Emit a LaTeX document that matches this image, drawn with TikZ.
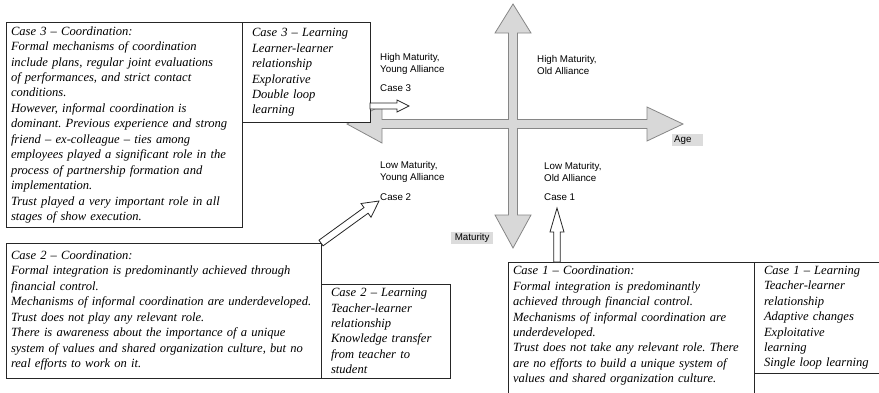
\documentclass[tikz,border=0pt]{standalone}
\usepackage{fontspec}
\setmainfont{Liberation Serif}
\setsansfont{Liberation Sans}
\usepackage{tikz}
\usetikzlibrary{calc}
\frenchspacing

\definecolor{axisfill}{HTML}{D8D8D8}
\definecolor{axisline}{HTML}{868686}
\definecolor{tagfill}{HTML}{DCDCDC}

% hollow block arrow: from, to, half shaft, half head, head length
\newcommand{\blockarrow}[5]{%
  \path ($(#2)!#5!(#1)$) coordinate (hb);
  \draw[hollow] ($(#1)!#3!90:(#2)$) -- ($(hb)!#3!90:(#2)$) -- ($(hb)!#4!90:(#2)$)
    -- (#2) -- ($(hb)!#4!-90:(#2)$) -- ($(hb)!#3!-90:(#2)$) -- ($(#1)!#3!-90:(#2)$) -- cycle;
}

\begin{document}
\begin{tikzpicture}[
    x=1bp, y=-1bp,
    coordbox/.style={draw=black!85, line width=0.9bp, fill=white, align=left, outer sep=0pt,
        inner xsep=5bp, inner ysep=4bp, font=\fontsize{12.6}{15.5}\selectfont\itshape},
    learnbox/.style={coordbox, inner xsep=10bp},
    quadlabel/.style={anchor=west, align=left, inner sep=0pt, font=\fontsize{9.8}{12}\selectfont\sffamily},
    axistag/.style={fill=tagfill, anchor=north west, inner xsep=2bp, inner ysep=1.5bp,
        font=\fontsize{9.8}{11}\selectfont\sffamily},
    axiscross/.style={draw=axisline, fill=axisfill, line width=0.8bp, line join=miter},
    hollow/.style={draw=black!85, fill=white, line width=0.8bp, line join=miter}
]
\useasboundingbox (0,0) rectangle (879,392);

% maturity / age cross
\draw[axiscross] (513,4) -- (531,33) -- (517.5,33) -- (517.5,119.5) -- (647,119.5) -- (647,107)
    -- (683,124) -- (647,141) -- (647,128.5) -- (517.5,128.5) -- (517.5,215) -- (531,215)
    -- (513,248) -- (495,215) -- (508.5,215) -- (508.5,128.5) -- (382,128.5) -- (382,143)
    -- (347,124) -- (382,105) -- (382,119.5) -- (508.5,119.5) -- (508.5,33) -- (495,33) -- cycle;

\node[axistag, text width=27bp] (agetag) at (672,134) {Age};
\node[axistag, minimum width=42bp] (mattag) at (451,232) {Maturity};

\node[quadlabel] (hmya) at (380,64) {High Maturity,\\Young Alliance};
\node[quadlabel] (case3lab) at (380,88) {Case 3};
\node[quadlabel] (hmoa) at (537,65) {High Maturity,\\Old Alliance};
\node[quadlabel] (lmya) at (380,172) {Low Maturity,\\Young Alliance};
\node[quadlabel] (case2lab) at (380,197) {Case 2};
\node[quadlabel] (lmoa) at (544,172) {Low Maturity,\\Old Alliance};
\node[quadlabel] (case1lab) at (544,197) {Case 1};

\node[coordbox, anchor=north west, text width=226bp] (c3coord) at (6,22.5)
    {Case 3 -- Coordination:\\
     Formal mechanisms of coordination\\
     include plans, regular joint evaluations\\
     of performances, and strict contact\\
     conditions.\\
     However, informal coordination is\\
     dominant. Previous experience and strong\\
     friend -- ex-colleague -- ties among\\
     employees played a significant role in the\\
     process of partnership formation and\\
     implementation.\\
     Trust played a very important role in all\\
     stages of show execution.};
\node[learnbox, anchor=north west, text width=108bp, minimum height=100bp] (c3learn) at (c3coord.north east)
    {Case 3 -- Learning\\
     Learner-learner\\
     relationship\\
     Explorative\\
     Double loop\\
     learning};

\node[coordbox, anchor=north west, text width=305bp, minimum height=135bp] (c2coord) at (6,243)
    {Case 2 -- Coordination:\\
     Formal integration is predominantly achieved through\\
     financial control.\\
     Mechanisms of informal coordination are underdeveloped.\\
     Trust does not play any relevant role.\\
     There is awareness about the importance of a unique\\
     system of values and shared organization culture, but no\\
     real efforts to work on it.};
\node[learnbox, anchor=south west, text width=109bp] (c2learn) at (c2coord.south east)
    {Case 2 -- Learning\\
     Teacher-learner\\
     relationship\\
     Knowledge transfer\\
     from teacher to\\
     student};

\node[coordbox, anchor=north west, text width=236bp] (c1coord) at (508,262)
    {Case 1 -- Coordination:\\
     Formal integration is predominantly\\
     achieved through financial control.\\
     Mechanisms of informal coordination are\\
     underdeveloped.\\
     Trust does not take any relevant role. There\\
     are no efforts to build a unique system of\\
     values and shared organization culture.\rule[-20bp]{0pt}{0pt}};
\node[learnbox, anchor=north west, text width=115bp] (c1learn) at (c1coord.north east)
    {Case 1 -- Learning\\
     Teacher-learner\\
     relationship\\
     Adaptive changes\\
     Exploitative\\
     learning\\
     Single loop learning};

\coordinate (c3tip) at (409,106);
\coordinate (c3from) at (c3learn.east |- c3tip);
\coordinate (c2tip) at (379,201);
\coordinate (c1tip) at (557,208);
\coordinate (c1from) at (c1tip |- c1coord.north);

\blockarrow{c3from}{c3tip}{3bp}{6bp}{12bp}
\blockarrow{c2coord.north east}{c2tip}{3.5bp}{8.5bp}{16bp}
\blockarrow{c1from}{c1tip}{3.3bp}{7bp}{24bp}
\end{tikzpicture}
\end{document}
